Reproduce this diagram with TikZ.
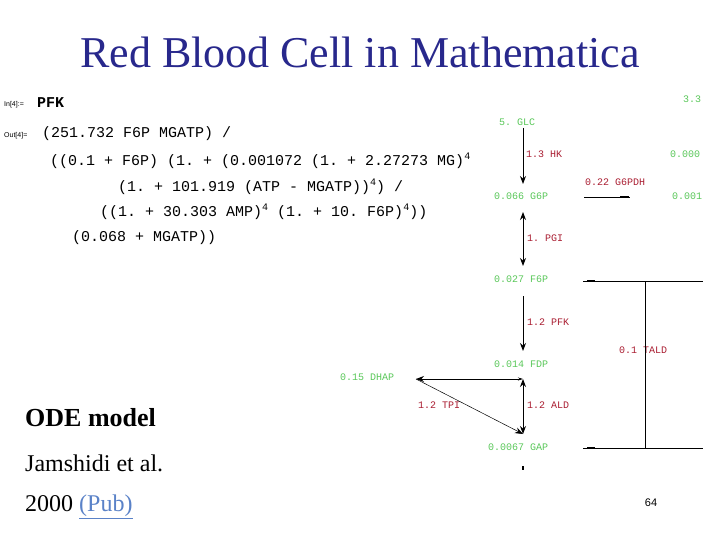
\documentclass[tikz,border=0pt]{standalone}
\usepackage{fontspec}
\setmainfont{Liberation Serif}
\setmonofont{Liberation Mono}
\setsansfont{Liberation Sans}
\usetikzlibrary{arrows.meta}
\definecolor{titleblue}{RGB}{40,40,140}
\definecolor{spg}{RGB}{90,200,90}
\definecolor{enz}{RGB}{170,30,50}
\definecolor{linkb}{RGB}{90,130,200}
\newcommand{\pw}{\raisebox{6pt}{\fontsize{10}{10}\selectfont 4}}
\begin{document}
\begin{tikzpicture}[x=1pt,y=-1pt,
  sp/.style={text=spg,font=\ttfamily\fontsize{10}{12}\selectfont,inner sep=1pt},
  en/.style={text=enz,font=\ttfamily\fontsize{10}{12}\selectfont,inner sep=1pt},
  eq/.style={anchor=west,font=\ttfamily\fontsize{15}{17}\selectfont,inner sep=0pt},
  rx/.style={line width=0.9pt,-{Stealth[length=8pt,width=6pt]}},
  rxb/.style={line width=0.9pt,{Stealth[length=8pt,width=6pt]}-{Stealth[length=8pt,width=6pt]}},
  ln/.style={line width=0.8pt}]
\useasboundingbox (0,0) rectangle (720,540);
\fill[white] (0,0) rectangle (720,540);
\node[text=titleblue,font=\fontsize{44}{48}\selectfont] (title) at (360,52) {Red Blood Cell in Mathematica};
\node[anchor=west,font=\sffamily\fontsize{7}{8}\selectfont,inner sep=0pt] (in) at (4,105) {In[4]:=};
\node[anchor=west,font=\ttfamily\bfseries\fontsize{15}{17}\selectfont,inner sep=0pt] (pfk) at (37,103) {PFK};
\node[anchor=west,font=\sffamily\fontsize{7}{8}\selectfont,inner sep=0pt] (out) at (4,136) {Out[4]=};
\node[eq] (e1) at (42,134) {(251.732 F6P MGATP) /};
\node[eq] (e2) at (50,161) {((0.1 + F6P) (1. + (0.001072 (1. + 2.27273 MG)\pw};
\node[eq] (e3) at (118,187) {(1. + 101.919 (ATP - MGATP))\pw) /};
\node[eq] (e4) at (100,212) {((1. + 30.303 AMP)\pw{} (1. + 10. F6P)\pw))};
\node[eq] (e5) at (72,238) {(0.068 + MGATP))};
% network
\node[sp] (glc) at (517,122) {5. GLC};
\node[en] (hk) at (544,154) {1.3 HK};
\node[sp] (g6p) at (521,196) {0.066 G6P};
\node[en] (pgi) at (545,238) {1. PGI};
\node[sp] (f6p) at (521,279) {0.027 F6P};
\node[en] (pfkr) at (548,322) {1.2 PFK};
\node[sp] (fdp) at (521,364) {0.014 FDP};
\node[sp] (dhap) at (367,377) {0.15 DHAP};
\node[en] (tpi) at (439,405) {1.2 TPI};
\node[en] (ald) at (548,405) {1.2 ALD};
\node[sp] (gap) at (518,447) {0.0067 GAP};
\node[en] (g6pdh) at (615,182) {0.22 G6PDH};
\node[sp] (v1) at (692,99) {3.3};
\node[sp] (v2) at (685,154) {0.000};
\node[sp] (v3) at (687,196) {0.001};
\node[en] (tald) at (643,350) {0.1 TALD};
\coordinate (a1) at (523,128); \coordinate (a2) at (523,184);
\draw[rx] (a1) -- (a2);
\coordinate (b1) at (523,212); \coordinate (b2) at (523,266);
\draw[rxb] (b1) -- (b2);
\coordinate (c1) at (523,296); \coordinate (c2) at (523,351);
\draw[rx] (c1) -- (c2);
\coordinate (fd) at (523,379); \coordinate (dh) at (416,379); \coordinate (ga) at (523,434);
\draw[ln,{Stealth[length=8pt,width=6pt]}-{Stealth[length=5pt,width=3pt]}] (dh) -- (fd);
\draw[rxb] (fd) -- (ga);
\draw[line width=0.5pt,-{Stealth[length=8pt,width=6pt]}] (dh) -- (ga);
\coordinate (t1) at (523,466); \coordinate (t2) at (523,470);
\draw[line width=1.2pt] (t1) -- (t2);
\coordinate (g1) at (584,197); \coordinate (g2) at (630,197);
\draw[ln] (g1) -- (g2); \draw[line width=2.5pt] (620,197) -- (629,197);
\coordinate (h1) at (583,281); \coordinate (h2) at (703,281);
\coordinate (h3) at (583,448); \coordinate (h4) at (703,448);
\coordinate (m1) at (645,281); \coordinate (m2) at (645,448);
\draw[ln] (h1) -- (h2); \draw[ln] (h3) -- (h4); \draw[ln] (m1) -- (m2);
\draw[line width=2.5pt] (587,281) -- (595,281);
\draw[line width=2.5pt] (587,448) -- (595,448);
% bottom left
\node[anchor=west,font=\bfseries\fontsize{26}{30}\selectfont,inner sep=0pt] (ode) at (25,418) {ODE model};
\node[anchor=west,font=\fontsize{24}{28}\selectfont,inner sep=0pt] (jam) at (25,463) {Jamshidi et al.};
\node[anchor=west,font=\fontsize{24}{28}\selectfont,inner sep=0pt] (yr) at (25,507) {2000 \textcolor{linkb}{\underline{(Pub)}}};
\node[font=\sffamily\fontsize{11}{13}\selectfont] (pg) at (651,503) {64};
\end{tikzpicture}
\end{document}
